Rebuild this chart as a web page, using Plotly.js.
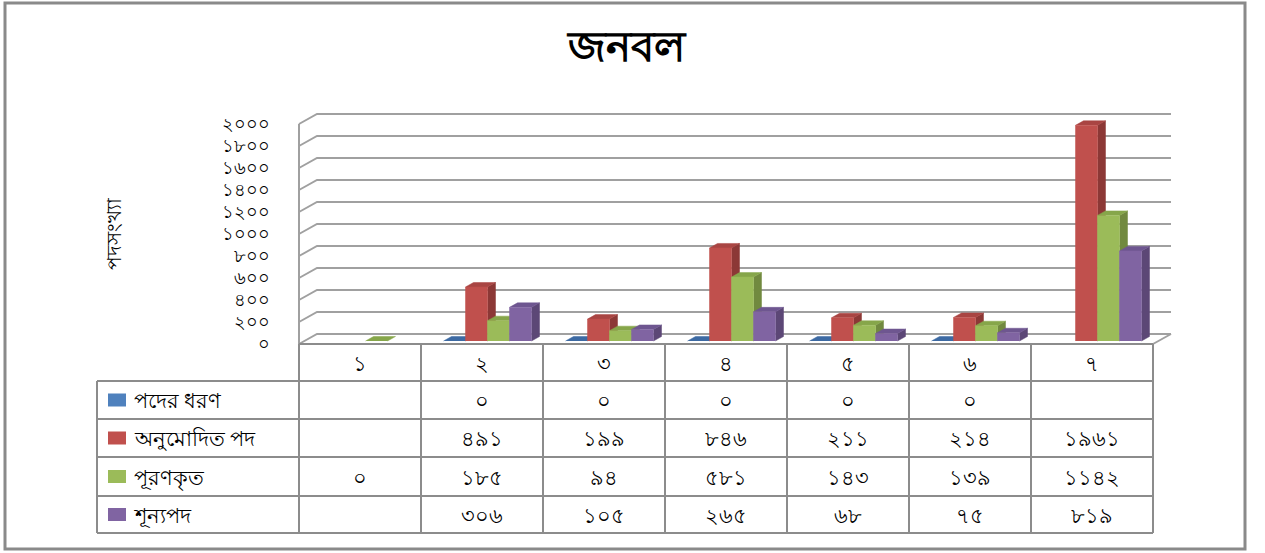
<!DOCTYPE html>
<html>
<head>
<meta charset="utf-8">
<script src="https://cdn.plot.ly/plotly-3.0.1.min.js"></script>
<style>html,body{margin:0;padding:0;background:#fff;}#chart{width:1265px;height:553px;}</style>
</head>
<body>
<div id="chart"></div>
<script>
// ---------------- data ----------------
const categories = ['১','২','৩','৪','৫','৬','৭'];
const seriesNames = ['পদের ধরণ','অনুমোদিত পদ','পূরণকৃত','শূন্যপদ'];
const podDhoron  = [null, 0, 0, 0, 0, 0, null];
const anumodito  = [null, 491, 199, 846, 211, 214, 1961];
const puronkrito = [0, 185, 94, 581, 143, 139, 1142];
const shunnopod  = [null, 306, 105, 265, 68, 75, 819];
const yTickVals  = [0,200,400,600,800,1000,1200,1400,1600,1800,2000];
const chartTitle = 'জনবল';
const yTitle = 'পদসংখ্যা';

// ---------------- styles / geometry ----------------
const seriesValues = [podDhoron, anumodito, puronkrito, shunnopod];
const frontCol = ['#4F81BD','#C0504D','#9BBB59','#8064A2'];
const sideCol  = ['#385D8A','#8C3836','#71893F','#5C4776'];
const topCol   = ['#3D6AA3','#A94543','#86A64A','#6E5690'];
const FONT = 'Noto Sans, DejaVu Sans, sans-serif';
const W = 1265, H = 553;
const PX0 = 360, CAT = 122;   // px of category-0 centre, px per category
const PY0 = 344, K = 0.11;    // px of value 0 (front plane), px per unit
const xd = px => (px - PX0) / CAT;
const yd = py => (PY0 - py) / K;
const WDX = 18 / CAT, WDY = 10 / K;          // wall depth
const BW = 22 / CAT, BSHIFT = 5.5 / CAT, BBASE = 3 / K;
const BDX = 8 / CAT, BDY = 4.5 / K;          // bar depth
const bn = n => String(n).replace(/[0-9]/g, d => '০১২৩৪৫৬৭৮৯'[+d]);
const TXT = 21;

const N = categories.length;
const X0 = -0.5, X1 = N - 0.5;
const traces = [];

// back wall gridlines + left wall
{
  const gx = [], gy = [];
  yTickVals.forEach(v => {
    gx.push(X0, X0 + WDX, X1 + WDX, null);
    gy.push(v, v + WDY, v + WDY, null);
  });
  gx.push(X0, X0, null); gy.push(0, yTickVals[yTickVals.length-1], null);
  gx.push(X1, X1 + WDX, null); gy.push(0, WDY, null);
  traces.push({type:'scatter', mode:'lines', x:gx, y:gy, line:{color:'#A0A0A0', width:2}, hoverinfo:'skip', showlegend:false});
}

// 3D bars
seriesValues.forEach((vals, s) => {
  const sx=[], sy=[], tx=[], ty=[], fx=[], fy=[];
  vals.forEach((v, i) => {
    if (v === null) return;
    const xl = i + (s - 1.5) * BW + BSHIFT - BW / 2, xr = xl + BW;
    const b = BBASE, t = BBASE + v;
    if (v > 0) {
      sx.push(xr, xr + BDX, xr + BDX, xr, null); sy.push(b, b + BDY, t + BDY, t, null);
      fx.push(xl, xl, xr, xr, null); fy.push(b, t, t, b, null);
    }
    tx.push(xl, xl + BDX, xr + BDX, xr, null); ty.push(t, t + BDY, t + BDY, t, null);
  });
  traces.push({type:'scatter', mode:'lines', x:sx, y:sy, fill:'toself', fillcolor:sideCol[s], line:{color:sideCol[s], width:0.5}, hoverinfo:'skip', showlegend:false});
  traces.push({type:'scatter', mode:'lines', x:tx, y:ty, fill:'toself', fillcolor:topCol[s], line:{color:topCol[s], width:0.5}, hoverinfo:'skip', showlegend:false});
  traces.push({type:'scatter', mode:'lines', x:fx, y:fy, fill:'toself', fillcolor:frontCol[s], line:{color:frontCol[s], width:0.5}, hoverinfo:'skip', showlegend:false, name:seriesNames[s]});
});

// data table grid
const rowPx = [344, 381, 419, 457, 496, 533];
const tableLeftPx = 97;
{
  const lx = [], ly = [];
  lx.push(X0, X1, null); ly.push(yd(rowPx[0]), yd(rowPx[0]), null);
  for (let r = 1; r < rowPx.length; r++) { lx.push(xd(tableLeftPx), X1, null); ly.push(yd(rowPx[r]), yd(rowPx[r]), null); }
  for (let c = 0; c <= N; c++) { lx.push(c - 0.5, c - 0.5, null); ly.push(yd(rowPx[0]), yd(rowPx[5]), null); }
  lx.push(xd(tableLeftPx), xd(tableLeftPx), null); ly.push(yd(rowPx[1]), yd(rowPx[5]), null);
  traces.push({type:'scatter', mode:'lines', x:lx, y:ly, line:{color:'#8C8C8C', width:2}, hoverinfo:'skip', showlegend:false});
}

const annotations = [];
const shapes = [];
categories.forEach((c, i) => {
  annotations.push({xref:'x', yref:'y', x:i, y:yd((rowPx[0]+rowPx[1])/2), text:c, showarrow:false, font:{family:FONT, size:TXT, color:'#000'}});
});
seriesValues.forEach((vals, s) => {
  const yc = yd((rowPx[s+1] + rowPx[s+2]) / 2);
  vals.forEach((v, i) => {
    if (v === null) return;
    annotations.push({xref:'x', yref:'y', x:i, y:yc, text:bn(v), showarrow:false, font:{family:FONT, size:TXT, color:'#000'}});
  });
  annotations.push({xref:'x', yref:'y', x:xd(132), y:yc, text:seriesNames[s], xanchor:'left', showarrow:false, font:{family:FONT, size:TXT, color:'#000'}});
  const my = (rowPx[s+1] + rowPx[s+2]) / 2;
  shapes.push({type:'rect', xref:'x', yref:'y', x0:xd(108), x1:xd(126), y0:yd(my-6.5), y1:yd(my+6.5), fillcolor:frontCol[s], line:{width:0}});
});
annotations.push({xref:'paper', yref:'paper', x:97/W, y:1-233/H, text:yTitle, textangle:-90, showarrow:false, font:{family:FONT, size:20, color:'#000'}});
shapes.push({type:'rect', xref:'paper', yref:'paper', x0:5/W, x1:1245/W, y0:1-549/H, y1:1-3/H, line:{color:'#8A8A8A', width:3}, fillcolor:'rgba(0,0,0,0)', layer:'below'});

const layout = {
  width: W, height: H, autosize:false,
  margin:{l:0, r:0, t:0, b:0, pad:0},
  paper_bgcolor:'#fff', plot_bgcolor:'rgba(0,0,0,0)',
  showlegend:false, hovermode:false,
  title:{text:'<b>'+chartTitle+'</b>', x:626/W, xanchor:'center', y:1-46/H, yanchor:'middle', font:{family:FONT, size:42, color:'#000'}},
  xaxis:{range:[xd(0), xd(W)], visible:false, fixedrange:true},
  yaxis:{range:[yd(H), yd(0)], anchor:'free', position:270/W, showgrid:false, zeroline:false, showline:false, ticks:'',
         tickvals:yTickVals, ticktext:yTickVals.map(bn), tickfont:{family:FONT, size:18, color:'#000'}, fixedrange:true},
  annotations, shapes
};
Plotly.newPlot('chart', traces, layout, {staticPlot:true, displayModeBar:false});
</script>
</body>
</html>
